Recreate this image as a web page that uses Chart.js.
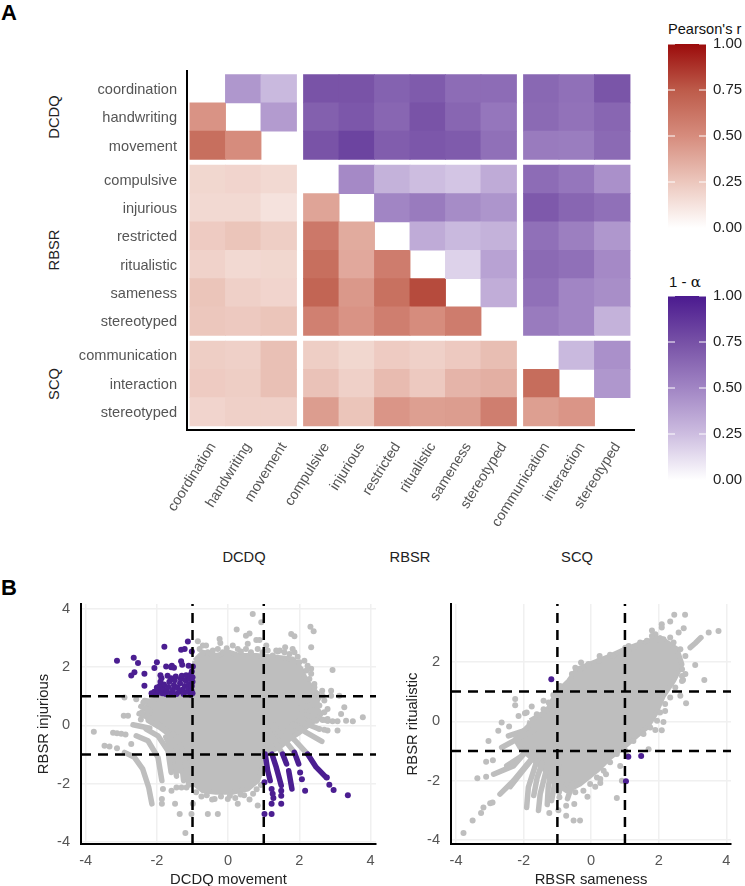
<!DOCTYPE html>
<html>
<head>
<meta charset="utf-8">
<script src="https://cdn.jsdelivr.net/npm/chart.js@4/dist/chart.umd.min.js"></script>
<style>
body { margin: 0; background: #fff; overflow: hidden; font-family: "Liberation Sans", sans-serif; }
canvas { position: absolute; }
.txt { position: absolute; white-space: nowrap; color: #222; font-size: 14.7px; line-height: 16px; }
.panel { font-weight: bold; font-size: 22px; line-height: 24px; color: #000; }
.rot { transform: translate(-50%, -50%) rotate(-90deg); }
.ctr { transform: translate(-50%, -50%); }
</style>
</head>
<body>
<div class="txt panel" style="left:1px;top:1px">A</div>
<div class="txt panel" style="left:1px;top:576px">B</div>
<div class="txt" style="left:668px;top:21px;color:#111;font-size:14.6px">Pearson's r</div>
<div class="txt" style="left:669px;top:274px;color:#111;font-size:15px">1 - <span style="font-family:'DejaVu Serif'">α</span></div>
<div class="txt rot" style="left:54px;top:117px">DCDQ</div>
<div class="txt rot" style="left:54px;top:250px">RBSR</div>
<div class="txt rot" style="left:54px;top:384px">SCQ</div>
<div class="txt ctr" style="left:244px;top:557px">DCDQ</div>
<div class="txt ctr" style="left:410px;top:557px">RBSR</div>
<div class="txt ctr" style="left:577px;top:557px">SCQ</div>
<canvas id="heat" style="left:0;top:0" width="660" height="545"></canvas>
<canvas id="legendR" style="left:660px;top:18px" width="85" height="220"></canvas>
<canvas id="legendA" style="left:660px;top:270px" width="85" height="220"></canvas>
<canvas id="scatterA" style="left:0;top:590px" width="380" height="300"></canvas>
<canvas id="scatterB" style="left:380px;top:590px" width="365" height="300"></canvas>
<script>
var measures = ['coordination','handwriting','movement','compulsive','injurious','restricted','ritualistic','sameness','stereotyped','communication','interaction','stereotyped'];
var groupSizes = [3, 6, 3];

// lower triangle, Pearson's r
var pearson = [
	[],
	[.47],
	[.65,.50],
	[.18,.19,.17],
	[.17,.17,.13,.40],
	[.23,.26,.22,.60,.37],
	[.20,.17,.18,.65,.38,.58],
	[.26,.21,.19,.70,.45,.64,.80],
	[.25,.24,.26,.56,.47,.57,.50,.58],
	[.22,.21,.28,.22,.18,.23,.21,.24,.29],
	[.23,.22,.28,.27,.21,.30,.24,.33,.35,.66],
	[.19,.21,.21,.43,.26,.46,.42,.43,.57,.42,.46]
];
// upper triangle, 1 - alpha, each row starts right of the diagonal
var alphaUpper = [
	[.42,.27,.74,.74,.67,.70,.62,.62,.64,.60,.73],
	[.40,.68,.72,.65,.74,.65,.57,.63,.59,.65],
	[.74,.81,.69,.72,.70,.60,.55,.54,.63],
	[.48,.30,.25,.22,.33,.62,.57,.45],
	[.50,.55,.47,.43,.71,.65,.60],
	[.33,.27,.30,.60,.53,.42],
	[.17,.37,.63,.60,.48],
	[.32,.60,.50,.46],
	[.55,.50,.30],
	[.27,.45],
	[.42],
	[]
];
var legendTicks = [0, .25, .5, .75, 1];
var redStops = ['#ffffff','#ecc7bd','#d68c7d','#bd5b4a','#9b0b0b'];
var purpleStops = ['#ffffff','#cdbde0','#a185c4','#7751a6','#4b1a8f'];

var axisTicks = [-4, -2, 0, 2, 4];
var cutoffs = [-1, 1];

// panel B left: DCDQ movement / RBSR injurious
var coreA = [[-.94,2.22],[-.71,2.51],[-.34,2.4],[.04,2.51],[.32,2.4],[.79,2.4],[1.35,2.34],[1.81,2.28],[2.05,1.94],[2.19,1.54],[2.47,1.13],[2.56,.96],[2.42,.68],[2.61,.39],[2.37,.1],[2.2,-.05],[2,-.25],[1.75,-.45],[1.5,-.7],[1.2,-.9],[1.02,-1],[.97,-1.44],[.83,-1.9],[.55,-2.19],[.13,-2.3],[-.34,-2.3],[-.71,-2.25],[-.94,-2.02],[-1.13,-1.44],[-1.27,-.87],[-1.55,-.41],[-1.93,-.07],[-2.25,.16],[-2.3,.62],[-2.16,.85],[-1.83,.99],[-.94,1.02],[-.94,2.22]];
var streaksA = [
	[[-2.91,-.93],[-2.63,-1.1],[-2.4,-1.5],[-2.23,-2.13],[-2.14,-2.7]],
	[[-2.58,-.36],[-2.25,-.53],[-1.97,-1.1],[-1.86,-1.9]],
	[[-2.3,-.13],[-1.97,-.36],[-1.69,-.87],[-1.6,-1.62]],
	[[-2.02,.1],[-1.74,-.18],[-1.46,-.76],[-1.36,-1.56]],
	[[-2.67,.02],[-2.4,-.05],[-2.2,-.1]],
	[[-1.45,-.4],[-1.25,-1],[-1.1,-2.05]],
	[[-1.75,-.4],[-1.55,-.9],[-1.45,-1.75]],
	[[-1.55,-.3],[-1.35,-.8],[-1.25,-1.9]],
	[[-2.5,.4],[-2.2,.25]],
	[[-2.45,.65],[-2.2,.5]],
	[[-2.35,.85],[-2.1,.8]],
	[[2.23,-.99],[1.9,-.55],[1.5,-.1]],
	[[1.86,-.93],[1.55,-.45],[1.3,0]],
	[[1.53,-.99],[1.3,-.5],[1.1,-.1]],
	[[2.63,-.55],[2.2,-.25],[1.8,.05]],
	[[2.5,-.1],[2,.15]],
	[[2.8,.15],[2.2,.35]],
	[[2.5,.75],[1.9,.55]]
];
var greyA = [[.69,3.83],[.93,3.54],[.24,3.29],[.5,3.08],[.6,3.16],[2.31,3.39],[2.4,3.23],[1.77,3.14],[1.86,3.06],[2.33,2.68],[-.85,2.89],[-.24,2.97],[-.22,2.83],[-.62,2.74],[.55,2.8],[.79,2.93],[.88,2.93],[1.07,2.74],[1.35,2.57],[1.45,2.57],[1.6,2.68],[1.81,2.62],[2.93,1.9],[2.33,1.94],[2.2,1.88],[2.42,1.42],[2.64,1.19],[2.89,1.19],[2.65,1.02],[2.89,1.02],[3.12,1.02],[3.26,.62],[3.17,.39],[3.78,.28],[3.5,.14],[3.31,.16],[3.07,-.18],[3.07,.14],[2.93,.14],[2.79,.16],[2.65,.18],[2.79,-.18],[2.7,-.15],[2.56,-.13],
	[-3.77,-.22],[-3.23,-.26],[-3.12,-.27],[-3,-.29],[-2.88,-.32],[-2.93,.33],[-2.81,.33],[-2.91,.96],[-2.58,.9],[-3.47,-.7],[-3.33,-.73],[-3.12,-.79],[-2.72,-.64],
	[-1.2,-3.7],[-1.36,-3.05],[-1.03,-3.05],[-.57,-3.05],[-.29,-3.05],[-1.86,-2.7],[-1.49,-2.7],[-.99,-2.7],[-.38,-2.53],[-.01,-2.53],[.27,-2.7],[.83,-2.76],[-1.86,-2.53],[-1.83,-2.19],[-1.59,-2.25],[-1.45,-2.14],[-1.31,-2.14],[-1.17,-2.14],[.45,-2.4],[.7,-2.35],
	[-.9,-2.3],[-.75,-2.45],[-.6,-2.4],[-.45,-2.55],[-.2,-2.45],[.05,-2.42],[.2,-2.5],[.35,-2.38],[.6,-2.55],[.8,-2.2],[.92,-2.05],
	[-2.42,.45],[-2.45,.2],[-2.38,.78],
	[-.8,2.62],[-.71,2.74],[-.57,2.51],[-.43,2.57],[-.29,2.62],[-.15,2.51],[-.04,2.65],[.13,2.74],[.27,2.62],[.36,2.54],[.5,2.62],[.64,2.51],[.83,2.62],[.97,2.51],[1.11,2.57],[1.25,2.4],[1.39,2.54],[1.58,2.51],[1.72,2.45],[1.86,2.51],[1.95,2.36],[2,2.17],[2.14,2.22],[2.23,2.05],[2.33,1.77],[2.28,1.59],[2.42,1.31],[2.51,1.08],[2.7,.85],[2.56,.68],[2.79,.56],[2.7,.45],[2.79,.22],[2.47,.16]];
var purpleA = [[-3.12,2.22],[-2.65,2.32],[-2.53,2.14],[-2.63,1.82],[-2.72,1.71],[-2.35,1.77],[-2.35,1.36],[-1.79,2.7],[-1.13,2.88],[-1.32,2.6],[-1.22,2.62],[-1.02,2.54],[-2,2.17],[-2.07,1.97],[-1.74,2.02],[-1.6,2],[-1.52,1.98],[-1.58,2.05],[-1.32,2.2],[-1.29,2.08],[-1.11,2.05],[-.99,2.02],
	[-2.15,1.1],[-2.07,1.15],[-2,1.08],[-1.95,1.2],[-1.92,1.35],[-1.9,1.5],[-1.87,1.62],[-1.85,1.1],[-1.82,1.25],[-1.8,1.4],[-1.75,1.08],[-1.72,1.2],[-1.68,1.32],[-1.65,1.5],[-1.6,1.62],[-1.6,1.1],[-1.55,1.22],[-1.52,1.38],[-1.5,1.55],[-1.47,1.68],[-1.45,1.08],[-1.42,1.3],[-1.38,1.15],[-1.35,1.45],[-1.33,1.6],[-1.3,1.7],[-1.28,1.22],[-1.25,1.08],[-1.22,1.35],[-1.2,1.55],[-1.18,1.72],[-1.15,1.15],[-1.12,1.28],[-1.1,1.42],[-1.08,1.6],[-1.05,1.75],[-1.05,1.05],[-1.03,1.2],[-1.02,1.35],[-1,1.5],[-1,1.65],[-1,1.1],[-1.02,1.85],[-1.7,1.7],[-1.9,1.72],[-2,1.3],
	[1.02,-3.05],[1.22,-3.05],[1.22,-2.7],[1.27,-2.5],[1.22,-2.19],[1.02,-1.96],[1.49,-2.7],[1.49,-2.42],[1.49,-2.25],[2.16,-2.25],[2.07,-1.85],[2.02,-1.62],[3.36,-2.4],[2.96,-2.22],[2.84,-2.04],[2.77,-1.79],[1.25,-2.35]];
var purpleStreaksA = [
	[[1.04,-.99],[1.11,-1.56],[1.18,-1.9]],
	[[1.23,-.99],[1.35,-1.44],[1.49,-2.07]],
	[[1.53,-.99],[1.64,-1.33]],
	[[1.7,-1.56],[1.79,-2.19]],
	[[1.86,-.93],[1.98,-1.33]],
	[[2.23,-.99],[2.47,-1.44],[2.75,-1.79]]
];

// panel B right: RBSR sameness / RBSR ritualistic
var coreB = [[-1.81,.02],[-1.31,.35],[-1.02,.97],[-.67,1.36],[-.42,1.75],[.07,1.98],[.56,2.2],[1.01,2.43],[1.55,2.65],[2.04,2.82],[2.54,2.43],[2.69,1.92],[2.44,1.36],[2.14,.86],[1.9,.24],[1.65,-.21],[1.35,-.49],[.96,-.88],[.56,-1.22],[.17,-1.66],[-.33,-2.11],[-.72,-2.34],[-1.17,-2],[-1.4,-1.6],[-1.75,-1.25],[-2.1,-.9],[-2.25,-.6],[-1.85,-.15],[-1.81,.02]];
var streaksB = [
	[[-2.7,-2.45],[-2.3,-2],[-1.81,-1.33],[-1.51,-.88]],
	[[-2.89,-1.78],[-2.3,-1.5],[-1.91,-.99]],
	[[-2.65,-.88],[-2.1,-.54],[-1.71,-.32]],
	[[-2.45,-.49],[-2,-.32]],
	[[-1.91,-2.9],[-1.86,-2.22],[-1.61,-1.33]],
	[[-1.56,-3],[-1.51,-2.45],[-1.26,-1.33]],
	[[-1.17,-2.67],[-1.07,-2],[-.92,-1.33]],
	[[-2.5,-1.5],[-2.1,-1.2],[-1.8,-.9]],
	[[-2.4,-2.2],[-2.05,-1.7],[-1.7,-1.2]],
	[[-1.7,-2.5],[-1.6,-1.9],[-1.45,-1.4]],
	[[-1.3,-2.8],[-1.27,-2.2],[-1.15,-1.5]],
	[[-.95,-2.4],[-.85,-1.9]],
	[[-.7,-2.6],[-.55,-2.1]],
	[[2.93,2.48],[3.08,2.63],[3.25,2.82]]
];
var greyB = [[-3.78,-3.76],[-3.51,-3.34],[-3.26,-3.09],[-3.19,-2.9],[-2.99,-2.76],[-2.92,-2.73],[-3.37,-1.92],[-3.11,-1.87],[-3.11,-1.36],[-2.91,-1.31],[-3.04,-.66],[-2.75,-.32],[-2.65,-.04],[-2.43,-.17],[-2.15,.18],[-1.96,.27],[-2.25,.75],[-2.25,.54],[-1.76,.5],[-1.41,.69],[-1.26,.63],[-.92,1.19],[-1.12,.89],[-.47,1.8],[-.3,1.98],[-.08,1.93],[.25,2.2],[.56,2.24],
	[2.46,3.59],[2.78,3.59],[2.34,3.36],[2.09,3.27],[2.09,3.16],[1.8,3.06],[1.9,2.93],[2.59,2.99],[2.74,3.13],[1.11,2.54],[1.01,2.48],[3.77,3.04],[3.48,2.99],
	[3.08,1.9],[3.35,1.39],[2.69,1.53],[2.72,1.39],[2.64,.86],[2.81,.61],[2.19,.35],[2.14,-.02],[2.09,-.3],[1.9,-.29],[1.7,-.94],[1.5,-.38],
	[-.5,-2.78],[-.74,-2.84],[-.97,-2.99],[-1.24,-3.09],[-.74,-3.18],[-.52,-3.34],[-.33,-3.34],[-.94,-2.56],[-.11,-2.54],[.76,-2.58],[.12,-2.2],[.27,-2.08],[.27,-1.94],[.44,-1.78],[.91,-2],[.86,-1.5],[1.06,-1.16],
	[.66,2.2],[1.11,2.43],[1.25,2.48],[1.45,2.65],[1.65,2.71],[1.8,2.87],[2,2.76],[2.14,2.76],[2.34,2.82],[2.44,2.65],[2.64,2.43],[2.79,2.2],[2.69,1.75],[2.79,1.59],[2.69,1.36],[2.49,1.14],[2.34,.8],[2.19,.58],[2.04,.3],[1.95,.02],[1.75,-.21],
	[1.55,-.43],[1.25,-.66],[1.01,-.99],[.76,-1.1],[.56,-1.38],[.37,-1.66],[.17,-1.89],[-.03,-2.11],[-.23,-2.34],[-.47,-2.39],
	[-1.41,.41],[-1.21,.52],[-1.07,.8],[-.87,1.08],[-.57,1.59],[-.33,1.7],[-.08,1.87],[.22,2.03],[-1.61,.24],[-1.91,.3]];
var purpleB = [[-1.18,1.42],[1.1,-1.19],[1.48,-1.17],[1.03,-2.02]];

var grey = '#bebebe';
var purple = '#4b1e91';

function hexToRgb(hex) {
	return [1, 3, 5].map(function (i) { return parseInt(hex.substr(i, 2), 16); });
}

function stopColor(stops, value) {
	var pos = value * (stops.length - 1);
	var i = Math.min(Math.floor(pos), stops.length - 2);
	var a = hexToRgb(stops[i]), b = hexToRgb(stops[i + 1]);
	var t = pos - i;
	return 'rgb(' + a.map(function (c, k) { return Math.round(c + (b[k] - c) * t); }).join(',') + ')';
}

// slot centres, with a gap between the three questionnaires
var slotGap = 0.2;
var slots = [];
groupSizes.forEach(function (size, g) {
	for (var i = 0; i < size; i++) {
		slots.push(slots.length + g * slotGap);
	}
});

var cells = [];
var cellColors = [];
pearson.forEach(function (row, r) {
	row.forEach(function (v, c) {
		cells.push({x: slots[c], y: [slots[r] - .5, slots[r] + .5]});
		cellColors.push(stopColor(redStops, v));
	});
});
alphaUpper.forEach(function (row, r) {
	row.forEach(function (v, i) {
		var c = r + 1 + i;
		cells.push({x: slots[c], y: [slots[r] - .5, slots[r] + .5]});
		cellColors.push(stopColor(purpleStops, v));
	});
});

function fixedAxis(size) {
	return function (scale) {
		if (scale.isHorizontal()) {
			scale.height = size;
		} else {
			scale.width = size;
		}
		scale.paddingLeft = scale.paddingRight = scale.paddingTop = scale.paddingBottom = 0;
	};
}

function tickValues(values) {
	return function (scale) {
		scale.ticks = values.map(function (v) { return {value: v}; });
	};
}

var tickFont = {family: '"Liberation Sans"', size: 14.6};
var tickColor = '#555555';
Chart.defaults.animation = false;
Chart.defaults.responsive = false;
Chart.defaults.plugins.legend.display = false;
Chart.defaults.plugins.tooltip.enabled = false;

new Chart(document.getElementById('heat'), {
	type: 'bar',
	data: {
		datasets: [{
			data: cells,
			backgroundColor: cellColors,
			barThickness: 35.7,
			borderWidth: 0
		}]
	},
	options: {
		layout: {padding: {top: 71, right: 26}},
		scales: {
			x: {
				type: 'linear', offset: false, min: -.585, max: 12.013,
				grid: {display: false, drawTicks: false},
				border: {display: true, color: '#000', width: 2},
				afterBuildTicks: tickValues(slots),
				afterFit: fixedAxis(115.5),
				ticks: {
					autoSkip: false, minRotation: 58, maxRotation: 58, padding: 10, labelOffset: 5,
					color: tickColor, font: {family: '"Liberation Sans"', size: 14.3},
					callback: function (v, i) { return measures[i]; }
				}
			},
			y: {
				type: 'linear', reverse: true, min: -.623, max: 12.023,
				grid: {display: false, drawTicks: false},
				border: {display: true, color: '#000', width: 2},
				afterBuildTicks: tickValues(slots),
				afterFit: fixedAxis(187),
				ticks: {
					autoSkip: false, padding: 10, labelOffset: 1.2,
					color: tickColor, font: tickFont,
					callback: function (v, i) { return measures[i]; }
				}
			}
		}
	}
});

var legendMarks = {
	id: 'legendMarks',
	afterDatasetsDraw: function (chart) {
		var ctx = chart.ctx, area = chart.chartArea, y = chart.scales.y;
		ctx.save();
		ctx.strokeStyle = '#fff';
		ctx.lineWidth = 1;
		legendTicks.forEach(function (v) {
			var p = y.getPixelForValue(v);
			ctx.beginPath();
			ctx.moveTo(area.left, p); ctx.lineTo(area.left + 7, p);
			ctx.moveTo(area.right - 7, p); ctx.lineTo(area.right, p);
			ctx.stroke();
		});
		ctx.restore();
	}
};

function colourLegend(id, stops, top) {
	new Chart(document.getElementById(id), {
		type: 'bar',
		data: {
			labels: [''],
			datasets: [{
				data: [[0, 1]],
				barPercentage: 1,
				categoryPercentage: 1,
				borderWidth: 0,
				backgroundColor: function (c) {
					var area = c.chart.chartArea;
					if (!area) return stops[2];
					var g = c.chart.ctx.createLinearGradient(0, area.bottom, 0, area.top);
					stops.forEach(function (s, i) { g.addColorStop(i / (stops.length - 1), s); });
					return g;
				}
			}]
		},
		options: {
			layout: {padding: {left: 8, top: top, bottom: 220 - top - 184}},
			scales: {
				x: {display: false},
				y: {
					position: 'right', min: 0, max: 1,
					grid: {display: false, drawTicks: false},
					border: {display: false},
					afterBuildTicks: tickValues(legendTicks),
					afterFit: fixedAxis(39),
					ticks: {
						padding: 7, color: '#222', font: {family: '"Liberation Sans"', size: 15},
						callback: function (v) { return v.toFixed(2); }
					}
				}
			}
		},
		plugins: [legendMarks]
	});
}
colourLegend('legendR', redStops, 26);
colourLegend('legendA', purpleStops, 26);

function toPoints(list) {
	return list.map(function (p) { return {x: p[0], y: p[1]}; });
}

function scatterPanel(id, o) {
	var sets = [];
	sets.push({data: toPoints(o.core), showLine: true, fill: 'shape', backgroundColor: grey, borderColor: grey, borderWidth: 5, borderJoinStyle: 'round', pointRadius: 0, order: 6});
	o.streaks.forEach(function (s) {
		sets.push({data: toPoints(s), showLine: true, borderColor: grey, borderWidth: 5.5, borderCapStyle: 'round', borderJoinStyle: 'round', pointRadius: 0, order: 5});
	});
	sets.push({data: toPoints(o.grey), backgroundColor: grey, borderWidth: 0, pointRadius: 3, order: 4});
	(o.purpleStreaks || []).forEach(function (s) {
		sets.push({data: toPoints(s), showLine: true, borderColor: purple, borderWidth: 5.5, borderCapStyle: 'round', borderJoinStyle: 'round', pointRadius: 0, order: 3});
	});
	sets.push({data: toPoints(o.purple), backgroundColor: purple, borderWidth: 0, pointRadius: 3, order: 2});
	cutoffs.forEach(function (c) {
		sets.push({data: [{x: c, y: o.yRange[0]}, {x: c, y: o.yRange[1]}], showLine: true, borderColor: '#000', borderWidth: 2.5, borderDash: [10, 7], pointRadius: 0, order: 1});
		sets.push({data: [{x: o.xRange[0], y: c}, {x: o.xRange[1], y: c}], showLine: true, borderColor: '#000', borderWidth: 2.5, borderDash: [10, 7], pointRadius: 0, order: 1});
	});
	new Chart(document.getElementById(id), {
		type: 'scatter',
		data: {datasets: sets},
		options: {
			layout: {padding: {top: 14, right: o.right}},
			scales: {
				x: {
					min: o.xRange[0], max: o.xRange[1],
					grid: {color: '#f0f0f0', lineWidth: 1.5, drawTicks: false},
					border: {display: true, color: '#000', width: 2},
					afterBuildTicks: tickValues(axisTicks),
					afterFit: fixedAxis(46),
					ticks: {padding: 8, color: tickColor, font: tickFont},
					title: {display: true, text: o.xTitle, color: '#222', font: {family: '"Liberation Sans"', size: 14.8}, padding: {top: 0, bottom: 1}}
				},
				y: {
					min: o.yRange[0], max: o.yRange[1],
					grid: {color: '#f0f0f0', lineWidth: 1.5, drawTicks: false},
					border: {display: true, color: '#000', width: 2},
					afterBuildTicks: tickValues(o.yTicks),
					afterFit: fixedAxis(o.left),
					ticks: {padding: 11, color: tickColor, font: tickFont},
					title: {display: true, text: o.yTitle, color: '#222', font: {family: '"Liberation Sans"', size: 14.8}, padding: {top: o.titleInset, bottom: 0}}
				}
			}
		}
	});
}

scatterPanel('scatterA', {
	core: coreA, streaks: streaksA, grey: greyA, purpleStreaks: purpleStreaksA, purple: purpleA,
	xRange: [-4.13, 4.15], yRange: [-4.08, 4.17], yTicks: axisTicks,
	left: 81, right: 3, titleInset: 35, xTitle: 'DCDQ movement', yTitle: 'RBSR injurious'
});
scatterPanel('scatterB', {
	core: coreB, streaks: streaksB, grey: greyB, purple: purpleB,
	xRange: [-4.15, 4.14], yRange: [-4.13, 3.95], yTicks: [-4, -2, 0, 2],
	left: 71, right: 14, titleInset: 24, xTitle: 'RBSR sameness', yTitle: 'RBSR ritualistic'
});
</script>
</body>
</html>
